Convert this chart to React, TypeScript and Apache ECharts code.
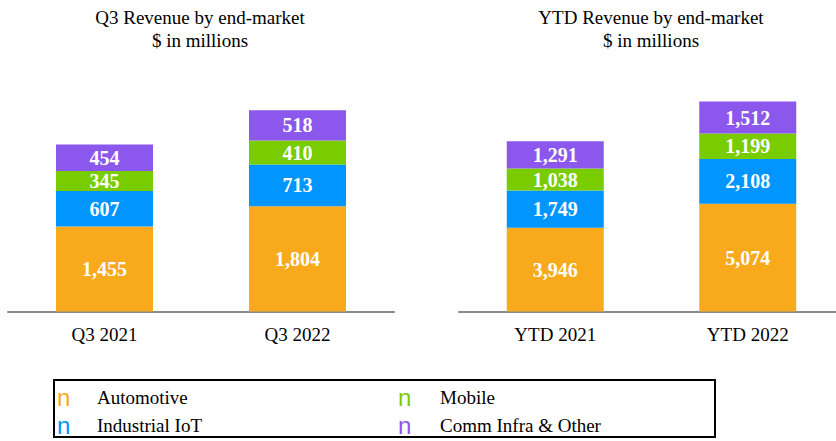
import React, { useEffect, useRef } from "react";
import * as echarts from "echarts";

const segments = ["Automotive", "Industrial IoT", "Mobile", "Comm Infra & Other"];
const colors = ["#F8AA1C", "#0095FF", "#79CC00", "#8C57EC"];

const q3Categories = ["Q3 2021", "Q3 2022"];
const q3Automotive = [1455, 1804];
const q3Industrial = [607, 713];
const q3Mobile = [345, 410];
const q3Comm = [454, 518];

const ytdCategories = ["YTD 2021", "YTD 2022"];
const ytdAutomotive = [3946, 5074];
const ytdIndustrial = [1749, 2108];
const ytdMobile = [1038, 1199];
const ytdComm = [1291, 1512];

const legendOrder = [0, 2, 1, 3]; // row-major: Automotive, Mobile / Industrial IoT, Comm Infra

const SERIF = "Liberation Serif, serif";

export default function App() {
  const ref = useRef<HTMLDivElement>(null);
  useEffect(() => {
    if (!ref.current) return;
    const chart = echarts.init(ref.current, undefined, { renderer: "svg" });
    const q3Data = [q3Automotive, q3Industrial, q3Mobile, q3Comm];
    const ytdData = [ytdAutomotive, ytdIndustrial, ytdMobile, ytdComm];
    const fmt = (p: any) => Number(p.value).toLocaleString("en-US");
    const mk = (data: number[], i: number, idx: number, stack: string) => ({
      type: "bar",
      name: segments[i],
      xAxisIndex: idx,
      yAxisIndex: idx,
      stack,
      data,
      barWidth: 97,
      itemStyle: { color: colors[i] },
      label: {
        show: true,
        position: "inside",
        color: "#fff",
        fontFamily: SERIF,
        fontWeight: "bold",
        fontSize: 20,
        formatter: fmt,
      },
    });
    const series: any[] = [];
    q3Data.forEach((d, i) => series.push(mk(d, i, 0, "q3")));
    ytdData.forEach((d, i) => series.push(mk(d, i, 1, "ytd")));

    const legendEls: any[] = [];
    legendEls.push({
      type: "rect",
      shape: { x: 54, y: 380, width: 661, height: 57 },
      style: { fill: "none", stroke: "#000", lineWidth: 2 },
    });
    legendOrder.forEach((si, k) => {
      const col = k % 2;
      const row = Math.floor(k / 2);
      const x0 = col === 0 ? 57 : 398;
      const y = 397 + row * 28;
      legendEls.push({
        type: "text",
        x: x0,
        y,
        style: {
          text: "n",
          fill: colors[si],
          font: "24px Liberation Sans Narrow, Liberation Sans, sans-serif",
          verticalAlign: "middle",
        },
      });
      legendEls.push({
        type: "text",
        x: col === 0 ? 97 : 440,
        y,
        style: {
          text: segments[si],
          fill: "#000",
          font: `19px ${SERIF}`,
          verticalAlign: "middle",
        },
      });
    });

    const titleStyle = (x: number, y: number, text: string) => ({
      type: "text",
      x,
      y,
      style: {
        text,
        fill: "#000",
        font: `19px ${SERIF}`,
        align: "center",
        verticalAlign: "middle",
      },
    });

    const xAxisCommon = {
      type: "category",
      axisLine: { lineStyle: { color: "#8a8a8a", width: 2 } },
      axisTick: { show: false },
      axisLabel: { color: "#000", fontFamily: SERIF, fontSize: 19, margin: 13 },
    };

    chart.setOption({
      animation: false,
      backgroundColor: "#fff",
      grid: [
        { left: 8, top: 77.9, width: 386, height: 233.6 },
        { left: 459, top: 99.2, width: 385, height: 212.3 },
      ],
      xAxis: [
        { ...xAxisCommon, gridIndex: 0, data: q3Categories },
        { ...xAxisCommon, gridIndex: 1, data: ytdCategories },
      ],
      yAxis: [
        { type: "value", gridIndex: 0, min: 0, max: 4000, show: false },
        { type: "value", gridIndex: 1, min: 0, max: 10000, show: false },
      ],
      series,
      graphic: [
        titleStyle(200, 17, "Q3 Revenue by end-market"),
        titleStyle(200, 40, "$ in millions"),
        titleStyle(651, 17, "YTD Revenue by end-market"),
        titleStyle(651, 40, "$ in millions"),
        ...legendEls,
      ],
    });
    return () => chart.dispose();
  }, []);
  return (
    <div
      style={{
        position: "fixed",
        left: 0,
        top: 0,
        width: 836,
        height: 441,
        overflow: "hidden",
        background: "#fff",
      }}
    >
      <div ref={ref} style={{ width: 850, height: 441 }} />
    </div>
  );
}
